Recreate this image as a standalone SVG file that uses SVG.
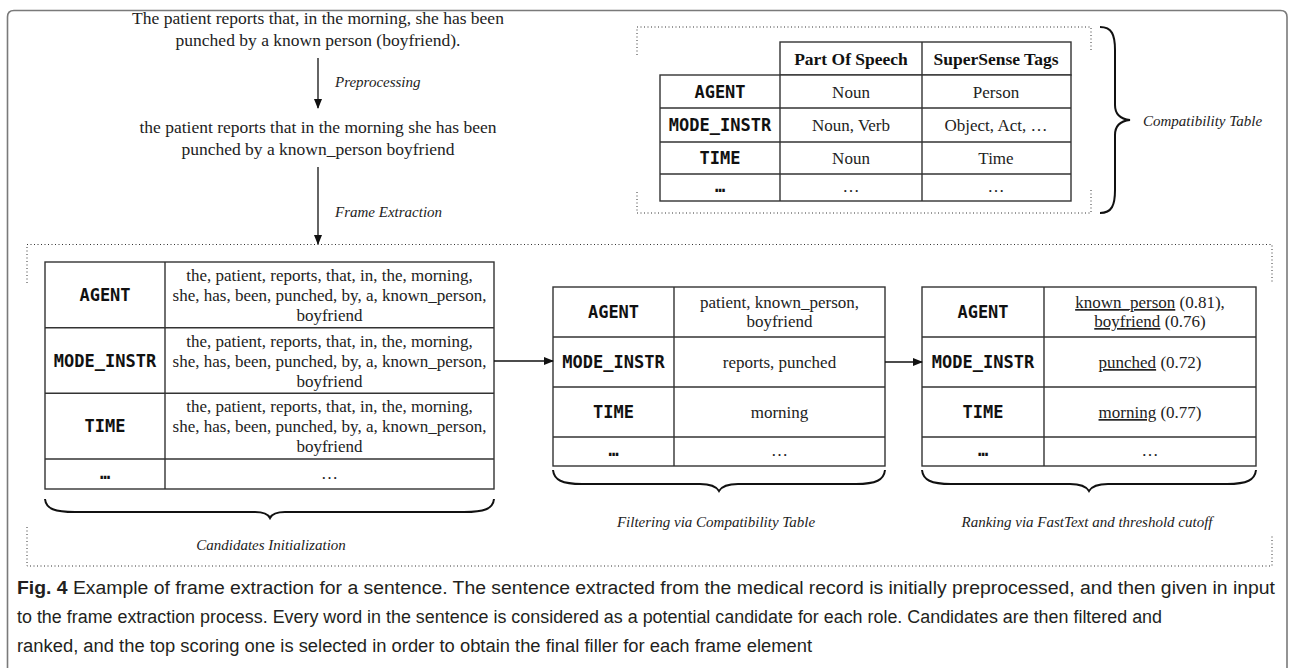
<svg xmlns="http://www.w3.org/2000/svg" width="1294" height="668" viewBox="0 0 1294 668">
<defs>
<marker id="ah" markerWidth="10" markerHeight="8" refX="9" refY="4" orient="auto" markerUnits="userSpaceOnUse">
<path d="M0,0 L10,4 L0,8 Z" fill="#111"/>
</marker>
<style>
.frame{fill:none;stroke:#7a7a7a;stroke-width:1.6}
.dot{fill:none;stroke:#333;stroke-width:1;stroke-dasharray:1 2.5}
.tb{fill:#fff;stroke:#333;stroke-width:1.4}
.ln{stroke:#333;stroke-width:1.4}
.s{font-family:"Liberation Serif","Times New Roman",serif;font-size:17px;fill:#222;text-anchor:middle}
.s2{font-family:"Liberation Serif","Times New Roman",serif;font-size:17.5px;fill:#222;text-anchor:middle}
.sb{font-family:"Liberation Serif","Times New Roman",serif;font-size:17.5px;font-weight:bold;fill:#111;text-anchor:middle}
.it{font-family:"Liberation Serif","Times New Roman",serif;font-size:15px;font-style:italic;fill:#222}
.itc{font-family:"Liberation Serif","Times New Roman",serif;font-size:15px;font-style:italic;fill:#222;text-anchor:middle}
.m{font-family:"DejaVu Sans Mono",monospace;font-size:17px;font-weight:bold;fill:#111;text-anchor:middle}
.u{text-decoration:underline}
.br{fill:none;stroke:#111;stroke-width:2}
.arr{stroke:#111;stroke-width:1.3;fill:none}
.cap{font-family:"Liberation Sans","Open Sans",sans-serif;font-size:18px;fill:#231f20}
</style>
</defs>
<rect width="1294" height="668" fill="#fff"/>
<path class="frame" d="M7.5,668 V17 Q7.5,10.5 14,10.5 H1280.5 Q1287,10.5 1287,17 V668"/>

<g id="sentence-raw">
<text class="s2" x="318" y="24">The patient reports that, in the morning, she has been</text>
<text class="s2" x="318" y="46">punched by a known person (boyfriend).</text>
</g>
<g id="sentence-pre">
<text class="s2" x="318" y="133">the patient reports that in the morning she has been</text>
<text class="s2" x="318" y="155">punched by a known_person boyfriend</text>
</g>

<g id="compat-table">
<path class="dot" d="M637,55 V27 H1091 V50 M637,192 V213 H1091 V190"/>
<rect class="tb" x="780" y="42" width="291" height="33"/>
<line class="ln" x1="922" y1="42" x2="922" y2="75"/>
<rect class="tb" x="660" y="75" width="411" height="126"/>
<line class="ln" x1="780" y1="75" x2="780" y2="201"/>
<line class="ln" x1="922" y1="75" x2="922" y2="201"/>
<line class="ln" x1="660" y1="108" x2="1071" y2="108"/>
<line class="ln" x1="660" y1="142" x2="1071" y2="142"/>
<line class="ln" x1="660" y1="174" x2="1071" y2="174"/>
<text class="sb" x="851" y="64.5">Part Of Speech</text>
<text class="sb" x="996" y="64.5">SuperSense Tags</text>
<text class="m" x="720" y="97.5">AGENT</text>
<text class="s" x="851" y="97.5">Noun</text>
<text class="s" x="996" y="97.5">Person</text>
<text class="m" x="720" y="131">MODE_INSTR</text>
<text class="s" x="851" y="131">Noun, Verb</text>
<text class="s" x="996" y="131">Object, Act, …</text>
<text class="m" x="720" y="164">TIME</text>
<text class="s" x="851" y="164">Noun</text>
<text class="s" x="996" y="164">Time</text>
<text class="m" x="720" y="192">…</text>
<text class="s" x="851" y="192">…</text>
<text class="s" x="996" y="192">…</text>
<path class="br" d="M1100,27 C1112,27 1115,35 1115,50 L1115,105 C1115,114 1120,119 1130,120 C1120,121 1115,126 1115,135 L1115,190 C1115,205 1112,213 1100,213"/>
<text class="it" x="1143" y="126">Compatibility Table</text>
</g>

<g id="frame-box">
<path class="dot" d="M27,283 V244.5 H1272 V283 M27,527 V566 H1272 V535"/>
</g>

<g id="candidates-table">
<rect class="tb" x="45" y="262" width="449" height="227"/>
<line class="ln" x1="165" y1="262" x2="165" y2="489"/>
<line class="ln" x1="45" y1="327.7" x2="494" y2="327.7"/>
<line class="ln" x1="45" y1="393.3" x2="494" y2="393.3"/>
<line class="ln" x1="45" y1="459" x2="494" y2="459"/>
<text class="m" x="105" y="301">AGENT</text>
<text class="s" x="329.5" y="281">the, patient, reports, that, in, the, morning,</text>
<text class="s" x="329.5" y="301">she, has, been, punched, by, a, known_person,</text>
<text class="s" x="329.5" y="321">boyfriend</text>
<text class="m" x="105" y="366.5">MODE_INSTR</text>
<text class="s" x="329.5" y="346.5">the, patient, reports, that, in, the, morning,</text>
<text class="s" x="329.5" y="366.5">she, has, been, punched, by, a, known_person,</text>
<text class="s" x="329.5" y="386.5">boyfriend</text>
<text class="m" x="105" y="432">TIME</text>
<text class="s" x="329.5" y="412">the, patient, reports, that, in, the, morning,</text>
<text class="s" x="329.5" y="432">she, has, been, punched, by, a, known_person,</text>
<text class="s" x="329.5" y="452">boyfriend</text>
<text class="m" x="105" y="479">…</text>
<text class="s" x="329.5" y="479">…</text>
<path class="br" d="M45,499 C46,509 55,512 75,512 L255,512 C264,512 268,514 270,518 C272,514 276,512 285,512 L464,512 C484,512 493,509 494,499"/>
<text class="itc" x="271" y="550">Candidates Initialization</text>
</g>

<g id="filtered-table">
<rect class="tb" x="553" y="287" width="332" height="179"/>
<line class="ln" x1="674" y1="287" x2="674" y2="466"/>
<line class="ln" x1="553" y1="337" x2="885" y2="337"/>
<line class="ln" x1="553" y1="387" x2="885" y2="387"/>
<line class="ln" x1="553" y1="437" x2="885" y2="437"/>
<text class="m" x="613.5" y="318">AGENT</text>
<text class="s" x="779.5" y="308">patient, known_person,</text>
<text class="s" x="779.5" y="327">boyfriend</text>
<text class="m" x="613.5" y="368">MODE_INSTR</text>
<text class="s" x="779.5" y="368">reports, punched</text>
<text class="m" x="613.5" y="418">TIME</text>
<text class="s" x="779.5" y="418">morning</text>
<text class="m" x="613.5" y="456">…</text>
<text class="s" x="779.5" y="456">…</text>
<path class="br" d="M553,470 C554,480 562,484 582,484 L700,484 C709,484 716,486 719,491 C722,486 729,484 738,484 L856,484 C876,484 884,480 885,470"/>
<text class="itc" x="716" y="527">Filtering via Compatibility Table</text>
</g>

<g id="ranked-table">
<rect class="tb" x="922" y="287" width="334" height="179"/>
<line class="ln" x1="1044" y1="287" x2="1044" y2="466"/>
<line class="ln" x1="922" y1="337" x2="1256" y2="337"/>
<line class="ln" x1="922" y1="387" x2="1256" y2="387"/>
<line class="ln" x1="922" y1="437" x2="1256" y2="437"/>
<text class="m" x="983" y="318">AGENT</text>
<text class="s" x="1150" y="308"><tspan class="u">known_person</tspan> (0.81),</text>
<text class="s" x="1150" y="327"><tspan class="u">boyfriend</tspan> (0.76)</text>
<text class="m" x="983" y="368">MODE_INSTR</text>
<text class="s" x="1150" y="368"><tspan class="u">punched</tspan> (0.72)</text>
<text class="m" x="983" y="418">TIME</text>
<text class="s" x="1150" y="418"><tspan class="u">morning</tspan> (0.77)</text>
<text class="m" x="983" y="456">…</text>
<text class="s" x="1150" y="456">…</text>
<path class="br" d="M922,470 C923,480 931,484 951,484 L1070,484 C1079,484 1086,486 1089,491 C1092,486 1099,484 1108,484 L1227,484 C1247,484 1255,480 1256,470"/>
<text class="itc" x="1087" y="527">Ranking via FastText and threshold cutoff</text>
</g>

<g id="connectors">
<line class="arr" x1="318" y1="58" x2="318" y2="108" marker-end="url(#ah)"/>
<text class="it" x="335" y="87">Preprocessing</text>
<line class="arr" x1="318" y1="167" x2="318" y2="244" marker-end="url(#ah)"/>
<text class="it" x="335" y="217">Frame Extraction</text>
<line class="arr" x1="494" y1="361" x2="553" y2="361" marker-end="url(#ah)"/>
<line class="arr" x1="885" y1="362" x2="922" y2="362" marker-end="url(#ah)"/>
</g>

<g id="caption">
<text class="cap" x="17" y="594" textLength="1258" lengthAdjust="spacingAndGlyphs"><tspan font-weight="bold">Fig. 4</tspan> Example of frame extraction for a sentence. The sentence extracted from the medical record is initially preprocessed, and then given in input</text>
<text class="cap" x="17" y="623" textLength="1145" lengthAdjust="spacingAndGlyphs">to the frame extraction process. Every word in the sentence is considered as a potential candidate for each role. Candidates are then filtered and</text>
<text class="cap" x="17" y="652" textLength="795" lengthAdjust="spacingAndGlyphs">ranked, and the top scoring one is selected in order to obtain the final filler for each frame element</text>
</g>
</svg>
